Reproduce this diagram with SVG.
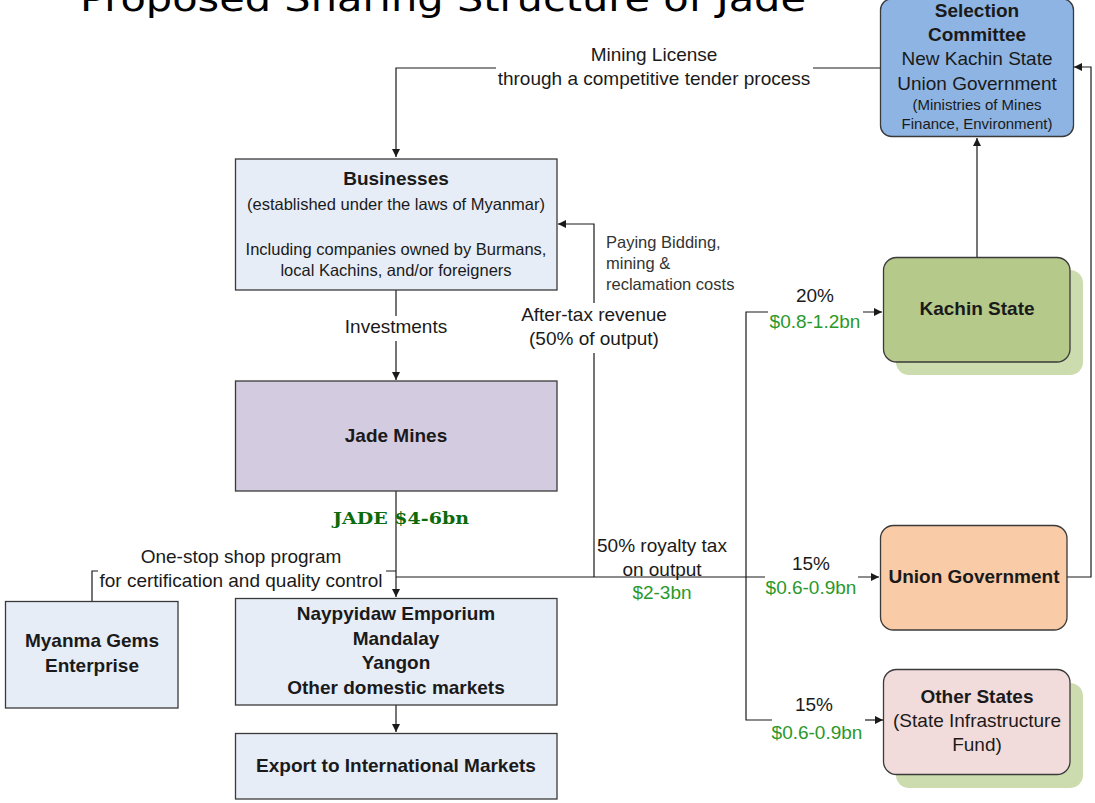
<svg xmlns="http://www.w3.org/2000/svg" width="1095" height="803" viewBox="0 0 1095 803">
<style>
.t{font-family:"Liberation Sans",Arial,sans-serif;fill:#1a1a1a;text-anchor:middle}
.b{font-weight:bold;font-size:19px}
.r{font-size:19px}
.s{font-size:16.5px}
.m{font-size:15px}
.g{fill:#2a982a}
.box{stroke:#3a3a3a;stroke-width:1.3}
.lb{fill:#e7edf7}
.ln{fill:none;stroke:#1a1a1a;stroke-width:1.2}
</style>
<defs>
<marker id="a" markerUnits="userSpaceOnUse" markerWidth="10" markerHeight="10" refX="8" refY="4" orient="auto">
<path d="M0,0 L8,4 L0,8 Z" fill="#1a1a1a"/>
</marker>
</defs>
<rect width="1095" height="803" fill="#fff"/>
<text x="80" y="11" font-family="DejaVu Sans,Verdana,sans-serif" font-size="36" textLength="726" lengthAdjust="spacingAndGlyphs" fill="#000">Proposed Sharing Structure of Jade</text>

<g id="connectors">
<path class="ln" d="M880,68 H813 M496,68 H396 V157" marker-end="url(#a)"/>
<path class="ln" d="M396,290 V316 M396,341 V380" marker-end="url(#a)"/>
<path class="ln" d="M396,491 V597" marker-end="url(#a)"/>
<path class="ln" d="M92,601 V571 H98 M386,571 H396"/>
<path class="ln" d="M396,705 V732" marker-end="url(#a)"/>
<path class="ln" d="M396,577 H765 M858,577 H879" marker-end="url(#a)"/>
<path class="ln" d="M594,577 V353 M594,303 V224 H558" marker-end="url(#a)"/>
<path class="ln" d="M768,312 H746 V720 H772 M863,312 H882" marker-end="url(#a)"/>
<path class="ln" d="M865,720 H883" marker-end="url(#a)"/>
<path class="ln" d="M977,257 V138" marker-end="url(#a)"/>
<path class="ln" d="M1067,577 H1091 V67 H1074" marker-end="url(#a)"/>
</g>

<g id="labels" class="t">
<text class="r" x="654" y="61">Mining License</text>
<text class="r" x="654" y="85">through a competitive tender process</text>
<text class="r" x="396" y="333" font-size="18">Investments</text>
<text x="401" y="524" font-family="DejaVu Serif,Liberation Serif,serif" font-weight="bold" font-size="17" fill="#0b6b0b" textLength="136" lengthAdjust="spacingAndGlyphs">JADE $4-6bn</text>
<text class="r" x="241" y="563" font-size="18">One-stop shop program</text>
<text class="r" x="241" y="587" font-size="18.3">for certification and quality control</text>
<text class="r" x="662" y="552" font-size="18">50% royalty tax</text>
<text class="r" x="662" y="576" font-size="18">on output</text>
<text class="r g" x="662" y="599" font-size="18">$2-3bn</text>
<text class="s" x="606" y="248" text-anchor="start" fill="#333">Paying Bidding,</text>
<text class="s" x="606" y="269" text-anchor="start" fill="#333">mining &amp;</text>
<text class="s" x="606" y="290" text-anchor="start" fill="#333">reclamation costs</text>
<text class="r" x="594" y="321">After-tax revenue</text>
<text class="r" x="594" y="345">(50% of output)</text>
<text class="r" x="815" y="302" font-size="18">20%</text>
<text class="r g" x="815" y="328" font-size="18">$0.8-1.2bn</text>
<text class="r" x="811" y="570" font-size="18">15%</text>
<text class="r g" x="811" y="594" font-size="18">$0.6-0.9bn</text>
<text class="r" x="814" y="711" font-size="18">15%</text>
<text class="r g" x="817" y="739" font-size="18">$0.6-0.9bn</text>
</g>

<g id="selection">
<rect class="box" x="880.5" y="-1" width="193" height="137.5" rx="11" fill="#8db4e3"/>
<text class="t b" x="977" y="17">Selection</text>
<text class="t b" x="977" y="41">Committee</text>
<text class="t r" x="977" y="65">New Kachin State</text>
<text class="t r" x="977" y="90">Union Government</text>
<text class="t m" x="977" y="110" fill="#333">(Ministries of Mines</text>
<text class="t m" x="977" y="129" fill="#333">Finance, Environment)</text>
</g>

<g id="businesses">
<rect class="box lb" x="235.5" y="159" width="321.5" height="131"/>
<text class="t b" x="396" y="185" font-size="18">Businesses</text>
<text class="t s" x="396" y="210" fill="#333">(established under the laws of Myanmar)</text>
<text class="t s" x="396" y="255" fill="#333">Including companies owned by Burmans,</text>
<text class="t s" x="396" y="276" fill="#333">local Kachins, and/or foreigners</text>
</g>

<g id="jade-mines">
<rect class="box" x="235.5" y="381" width="321.5" height="110" fill="#d3cbe0"/>
<text class="t b" x="396" y="442" font-size="18">Jade Mines</text>
</g>

<g id="myanma-gems">
<rect class="box lb" x="5.5" y="601.5" width="172.5" height="106.5"/>
<text class="t b" x="92" y="647" font-size="18">Myanma Gems</text>
<text class="t b" x="92" y="672" font-size="18">Enterprise</text>
</g>

<g id="domestic">
<rect class="box lb" x="235.5" y="598.5" width="321.5" height="106.5"/>
<text class="t b" x="396" y="620" font-size="18">Naypyidaw Emporium</text>
<text class="t b" x="396" y="645" font-size="18">Mandalay</text>
<text class="t b" x="396" y="669" font-size="18">Yangon</text>
<text class="t b" x="396" y="694" font-size="18">Other domestic markets</text>
</g>

<g id="export">
<rect class="box lb" x="235.5" y="733.5" width="321.5" height="65.5"/>
<text class="t b" x="396" y="772" font-size="18">Export to International Markets</text>
</g>

<g id="kachin">
<rect x="896" y="270" width="187" height="105" rx="13" fill="#cddcae"/>
<rect class="box" x="883.5" y="257.5" width="186.5" height="104.5" rx="13" fill="#b5c98b"/>
<text class="t b" x="977" y="315">Kachin State</text>
</g>

<g id="union">
<rect class="box" x="880.5" y="525.5" width="186.5" height="104.5" rx="13" fill="#f9cba6"/>
<text class="t b" x="974" y="583">Union Government</text>
</g>

<g id="other-states">
<rect x="896" y="683" width="187" height="105" rx="13" fill="#cddcae"/>
<rect class="box" x="883.5" y="669.5" width="186.5" height="105" rx="13" fill="#f2dcdb"/>
<text class="t b" x="977" y="703">Other States</text>
<text class="t r" x="977" y="727">(State Infrastructure</text>
<text class="t r" x="977" y="751">Fund)</text>
</g>
</svg>
